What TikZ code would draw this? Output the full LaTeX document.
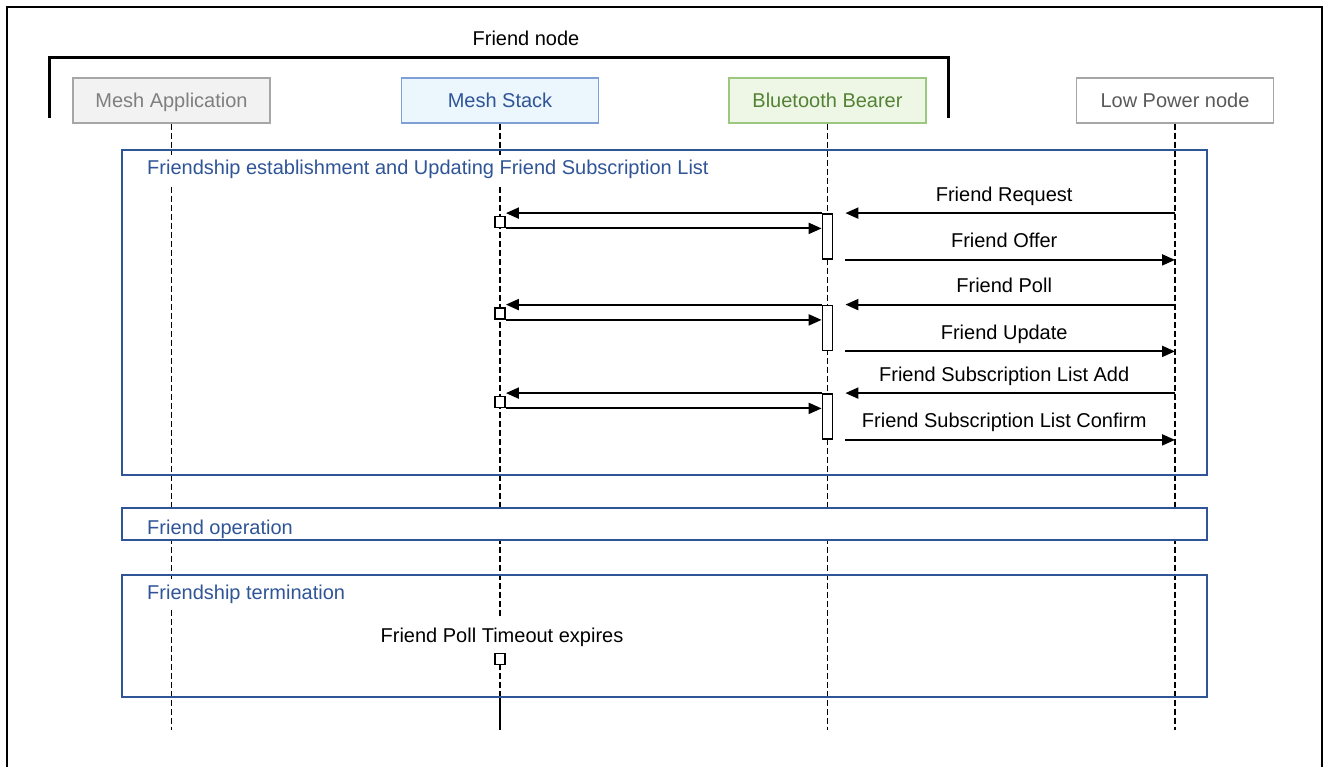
\documentclass[tikz,border=0pt]{standalone}
\usepackage{fontspec}
\setmainfont{Liberation Sans}
\usetikzlibrary{arrows.meta}

\definecolor{appline}{RGB}{166,166,166}
\definecolor{appfill}{RGB}{242,242,242}
\definecolor{apptext}{RGB}{127,127,127}
\definecolor{stackfill}{RGB}{235,246,253}
\definecolor{stackline}{RGB}{126,160,214}
\definecolor{stacktext}{RGB}{47,85,151}
\definecolor{bearfill}{RGB}{238,247,230}
\definecolor{bearline}{RGB}{155,199,127}
\definecolor{beartext}{RGB}{84,130,53}
\definecolor{lpntext}{RGB}{89,89,89}
\definecolor{sectblue}{RGB}{47,85,151}

\tikzset{
  actor/.style={draw, line width=1.3pt, minimum width=197pt, minimum height=45pt, inner sep=0pt,
    text height=14pt, text depth=0pt},
  lifeline/.style={dash pattern=on 6pt off 3pt, line width=1.7pt},
  msg/.style={-{Triangle[length=13pt,width=11pt]}, line width=2pt},
  actbox/.style={draw, fill=white, line width=1.8pt, minimum width=10pt, minimum height=45pt, inner sep=0pt},
  tickbox/.style={draw, fill=white, line width=1.8pt, minimum width=10pt, minimum height=11pt, inner sep=0pt},
  sect/.style={draw=sectblue, line width=2.4pt},
  secttitle/.style={text=sectblue, fill=white, anchor=base west, inner xsep=2pt, inner ysep=6pt},
  lbl/.style={midway, anchor=base, yshift=12pt, inner sep=0pt}
}

\begin{document}
\begin{tikzpicture}[x=1pt, y=-1pt, font=\fontsize{20}{24}\selectfont]
\useasboundingbox (0,0) rectangle (1325,767);
% outer frame
\draw[line width=2.5pt] (7,767) -- (7,7) -- (1322,7) -- (1322,767);

% friend node bracket
\node (fn) at (526,38) {Friend node};
\draw[line width=3pt] (49,118) -- (49,58) -- (948,58) -- (948,118);

% participants
\node[actor, draw=appline, fill=appfill, text=apptext] (app) at (171.5,100.5) {Mesh Application};
\node[actor, draw=stackline, fill=stackfill, text=stacktext] (stack) at (500,100.5) {Mesh Stack};
\node[actor, draw=bearline, fill=bearfill, text=beartext] (bear) at (827.5,100.5) {Bluetooth Bearer};
\node[actor, draw=appline, text=lpntext] (lpn) at (1175,100.5) {Low Power node};

% lifelines
\foreach \p in {app,stack,bear,lpn}
  \draw[lifeline] (\p.south) -- (\p.south |- 0,730);
\draw[line width=1.7pt] (stack.south |- 0,697) -- (stack.south |- 0,730);

% phases
\draw[sect] (122,150) rectangle (1207,475);
\node[secttitle] (est) at (145,175) {Friendship establishment and Updating Friend Subscription List};
\draw[sect, fill=white] (122,508) rectangle (1207,540);
\node[secttitle, fill=none] (op) at (145,534) {Friend operation};
\draw[sect] (122,575) rectangle (1207,697);
\node[secttitle] (term) at (145,599) {Friendship termination};

% friend request / offer
\node[actbox] (a1) at (bear.south |- 0,236.5) {};
\node[tickbox] (s1) at (stack.south |- 0,222) {};
\draw[msg] (a1.north west) -- (a1.north west -| s1.east);
\draw[msg] (s1.south east) -- (s1.south east -| a1.west);
\draw[msg, shorten >=12pt] (a1.north east -| lpn) -- (a1.north east) node[lbl] {Friend Request};
\draw[msg, shorten <=12pt] (a1.south east) -- (a1.south east -| lpn) node[lbl] {Friend Offer};

% friend poll / update
\node[actbox] (a2) at (bear.south |- 0,328) {};
\node[tickbox] (s2) at (stack.south |- 0,313.5) {};
\draw[msg] (a2.north west) -- (a2.north west -| s2.east);
\draw[msg] (s2.south east) -- (s2.south east -| a2.west);
\draw[msg, shorten >=12pt] (a2.north east -| lpn) -- (a2.north east) node[lbl] {Friend Poll};
\draw[msg, shorten <=12pt] (a2.south east) -- (a2.south east -| lpn) node[lbl] {Friend Update};

% subscription list add / confirm
\node[actbox] (a3) at (bear.south |- 0,416.5) {};
\node[tickbox] (s3) at (stack.south |- 0,402) {};
\draw[msg] (a3.north west) -- (a3.north west -| s3.east);
\draw[msg] (s3.south east) -- (s3.south east -| a3.west);
\draw[msg, shorten >=12pt] (a3.north east -| lpn) -- (a3.north east) node[lbl] {Friend Subscription List Add};
\draw[msg, shorten <=12pt] (a3.south east) -- (a3.south east -| lpn) node[lbl] {Friend Subscription List Confirm};

% poll timeout
\node[fill=white, anchor=base, inner xsep=2pt, inner ysep=9pt] (tmo) at (502,642) {Friend Poll Timeout expires};
\node[tickbox] (s4) at (stack.south |- 0,659) {};
\end{tikzpicture}
\end{document}
